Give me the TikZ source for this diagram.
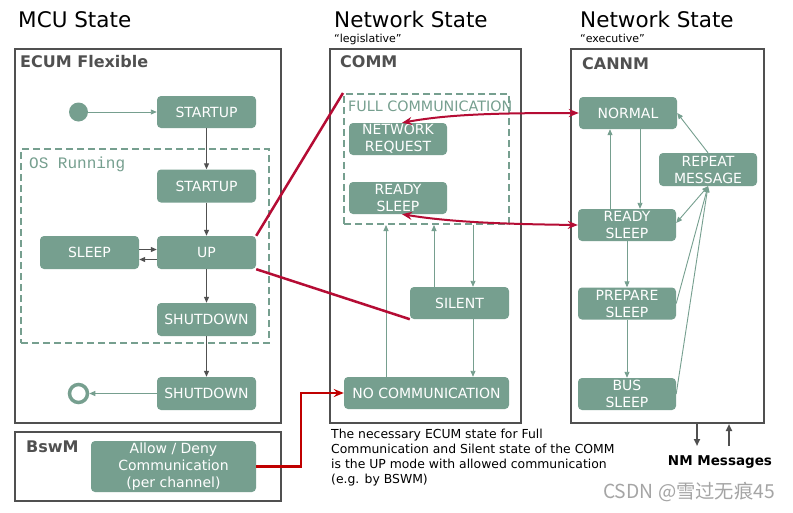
\documentclass[tikz,border=0pt]{standalone}
\usepackage{fontspec}
\setmainfont{DejaVu Sans}
\newfontfamily\osfont{Liberation Mono}
\newfontfamily\cjkfont{Noto Sans CJK SC}
\usetikzlibrary{arrows.meta,calc}
\definecolor{gfill}{RGB}{118,159,143}
\definecolor{dgray}{RGB}{80,80,80}
\definecolor{crim}{RGB}{181,12,52}
\definecolor{bred}{RGB}{192,0,0}
\definecolor{wmark}{RGB}{165,165,165}
\begin{document}
\begin{tikzpicture}[x=1pt,y=-1pt,
  state/.style={fill=gfill, rounded corners=4pt, text=white, inner sep=0pt, align=center,
    font=\fontsize{14}{17}\selectfont},
  sz/.style 2 args={minimum width=#1pt, minimum height=#2pt},
  frame/.style={draw=dgray, line width=2pt, inner sep=0pt},
  region/.style={draw=gfill, line width=2pt, dash pattern=on 7pt off 4pt, inner sep=0pt},
  lbl/.style={anchor=base west, inner sep=0pt},
  ttl/.style={lbl, font=\fontsize{21.5}{25}\selectfont},
  sub/.style={lbl, font=\fontsize{11}{12}\selectfont},
  hdr/.style={lbl, text=dgray, font=\bfseries\fontsize{16}{18}\selectfont},
  darr/.style={draw=dgray, line width=1pt, -{Triangle[length=6pt,width=5pt]}},
  garr/.style={draw=gfill, line width=0.9pt, -{Triangle[length=6pt,width=5pt]}},
  nmarr/.style={draw=dgray, line width=2pt, -{Triangle[length=7pt,width=6pt]}},
  redln/.style={draw=crim, line width=2.5pt},
  redarr/.style={draw=crim, line width=2pt, {Stealth[length=10pt,width=8pt]}-{Stealth[length=10pt,width=8pt]}},
]
\fill[white] (0,0) rectangle (793,512);
\useasboundingbox (0,0) rectangle (793,512);

% titles
\node[ttl] (t1) at (18,27) {MCU State};
\node[ttl] (t2) at (334,27) {Network State};
\node[sub] (s2) at (334,42) {“legislative”};
\node[ttl] (t3) at (580,27) {Network State};
\node[sub] (s3) at (580,42) {“executive”};

% frames
\node[frame, sz={266}{374}] (ecum) at (148,236) {};
\node[frame, sz={266}{69}] (bswm) at (148,466.5) {};
\node[frame, sz={191}{374}] (comm) at (425.5,236) {};
\node[frame, sz={193}{374}] (cannm) at (667.5,236) {};
\node[hdr] (h1) at (20,67) {ECUM Flexible};
\node[hdr] (h2) at (26,452) {BswM};
\node[hdr] (h3) at (340,67) {COMM};
\node[hdr] (h4) at (582,69) {CANNM};

% regions
\node[region, sz={248}{194}] (osr) at (145,246) {};
\node[lbl, text=gfill, font=\osfont\fontsize{16}{18}\selectfont] (osl) at (29,168) {OS Running};
\node[region, sz={165}{130}] (full) at (426.5,159) {};
\node[lbl, text=gfill, font=\fontsize{14.3}{16}\selectfont] (fulll) at (348,111) {FULL COMMUNICATION};

% ECUM states
\node[circle, fill=gfill, minimum size=19pt, inner sep=0pt] (init) at (78.5,112) {};
\node[state, sz={99}{32}] (st1) at (206.5,112) {STARTUP};
\node[state, sz={99}{33}] (st2) at (206.5,186) {STARTUP};
\node[state, sz={99}{33}] (sleep) at (89.5,252.5) {SLEEP};
\node[state, sz={99}{33}] (up) at (206.5,252.5) {UP};
\node[state, sz={99}{33}] (sd1) at (206.5,319.5) {SHUTDOWN};
\node[state, sz={99}{33}] (sd2) at (206.5,393.5) {SHUTDOWN};
\node[circle, draw=gfill, fill=white, line width=3.5pt, minimum size=18pt, inner sep=0pt] (fin) at (78.5,393.5) {};
\node[state, sz={165}{51}] (allow) at (173.5,466.5) {Allow / Deny\\Communication\\(per channel)};

% COMM states
\node[state, sz={98}{32}] (netreq) at (398,139) {NETWORK\\REQUEST};
\node[state, sz={98}{32}] (ready1) at (398,198) {READY\\SLEEP};
\node[state, sz={99}{32}] (silent) at (459.5,303) {SILENT};
\node[state, sz={165}{32}] (nocomm) at (426.5,393) {NO COMMUNICATION};

% CANNM states
\node[state, sz={98}{32}] (normal) at (628,113) {NORMAL};
\node[state, sz={98}{33}] (repeat) at (708,169.5) {REPEAT\\MESSAGE};
\node[state, sz={98}{32}] (ready2) at (627,225) {READY\\SLEEP};
\node[state, sz={98}{32}] (prepare) at (627,303.5) {PREPARE\\SLEEP};
\node[state, sz={98}{32}] (bus) at (627,394) {BUS\\SLEEP};

% ECUM arrows
\draw[garr] (init) -- (st1);
\draw[darr] (st1) -- (st2);
\draw[darr] (st2) -- (up);
\draw[darr] ([yshift=3pt]sleep.east) -- ([yshift=3pt]up.west);
\draw[darr] ([yshift=-7pt]up.west) -- ([yshift=-7pt]sleep.east);
\draw[darr] (up) -- (sd1);
\draw[darr] (sd1) -- (sd2);
\draw[garr] (sd2) -- (fin);

% COMM arrows
\coordinate (cA) at (386,0);
\coordinate (cB) at (434,0);
\coordinate (cC) at (473,0);
\draw[garr] (cA |- nocomm.north) -- (cA |- full.south);
\draw[garr] (cB |- silent.north) -- (cB |- full.south);
\draw[garr] (cC |- full.south) -- (cC |- silent.north);
\draw[garr] (cC |- silent.south) -- (cC |- nocomm.north);

% CANNM arrows
\coordinate (cD) at (610,0);
\coordinate (cE) at (640,0);
\draw[garr] (cD |- ready2.north) -- (cD |- normal.south);
\draw[garr] (cE |- normal.south) -- (cE |- ready2.north);
\draw[garr] (repeat.north) -- (normal.east);
\draw[garr, {Triangle[length=6pt,width=5pt]}-{Triangle[length=6pt,width=5pt]}] (repeat.south) -- ([yshift=2pt]ready2.east);
\draw[garr] (prepare.east) -- (repeat.south);
\draw[garr] (bus.east) -- (repeat.south);
\draw[garr] (ready2) -- (prepare);
\draw[garr] (prepare) -- (bus);

% NM messages
\coordinate (nmA) at (697,446);
\coordinate (nmB) at (729,446);
\draw[nmarr] (nmA |- cannm.south) -- (nmA);
\draw[nmarr] (nmB) -- (nmB |- cannm.south);
\node[anchor=base, inner sep=0pt, font=\bfseries\fontsize{13.5}{16}\selectfont] (nmtxt) at (720,465) {NM Messages};

% red connectors
\draw[redln] (up.north east) -- (full.north west);
\draw[redln] (up.south east) -- (silent.south west);
\coordinate (bend) at (301,430);
\draw[draw=bred, line width=2.5pt, -{Stealth[length=10pt,width=8pt]}] (allow.east) -| (bend) |- (nocomm.west);
\draw[redarr] ([xshift=4pt]netreq.north) .. controls (450,114) and (500,113) .. (normal.west);
\draw[redarr] ([xshift=4pt]ready1.south) .. controls (450,222) and (500,224) .. (ready2.west);

% description
\node[anchor=north west, inner sep=0pt, align=left, font=\fontsize{12.4}{15}\selectfont] (desc) at (331,429)
  {The necessary ECUM state for Full\\Communication and Silent state of the COMM\\is the UP mode with allowed communication\\(e.g. by BSWM)};

% watermark
\node[lbl, text=wmark, font=\cjkfont\fontsize{19.3}{21}\selectfont] (wm) at (603,498) {CSDN @雪过无痕45};
\end{tikzpicture}
\end{document}
